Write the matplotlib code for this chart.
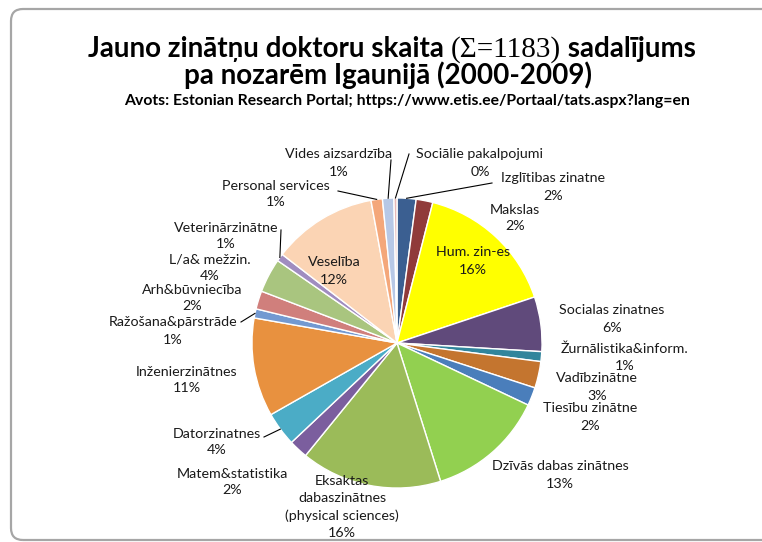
import matplotlib
matplotlib.use("Agg")
import matplotlib.pyplot as plt
from matplotlib.patches import FancyBboxPatch
import numpy as np

# ---------------- data ----------------
categories = [
    "Izglītibas zinatne", "Makslas", "Hum. zin-es", "Socialas zinatnes",
    "Žurnālistika&inform.", "Vadībzinātne", "Tiesību zinātne",
    "Dzīvās dabas zinātnes", "Eksaktas\ndabaszinātnes\n(physical sciences)",
    "Matem&statistika", "Datorzinatnes", "Inženierzinātnes",
    "Ražošana&pārstrāde", "Arh&būvniecība", "L/a& mežzin.",
    "Veterinārzinātne", "Veselība", "Personal services",
    "Vides aizsardzība", "Sociālie pakalpojumi",
]
counts = [25, 22, 188, 72, 13, 35, 24, 155, 186, 25, 45, 130,
          12, 24, 45, 10, 138, 15, 15, 4]
colors = [
    "#3B5F91", "#903B3A", "#FFFF00", "#604A7B", "#31859C", "#C4752F",
    "#4A7EBB", "#92D050", "#9BBB59", "#7B5E9E", "#4BACC6", "#E8913F",
    "#7399D1", "#D07F7C", "#A9C57F", "#A08CC0", "#FBD4B4", "#F4A77A",
    "#B7C8E6", "#E6B9B8",
]
title_parts = ["Jauno zinātņu doktoru skaita ", "(Σ=1183)", " sadalījums"]
title_line2 = "pa nozarēm Igaunijā (2000-2009)"
subtitle = "Avots: Estonian Research Portal; https://www.etis.ee/Portaal/tats.aspx?lang=en"

# ---------------- layout (pixel coordinates of the reference) ----------------
W, H = 762, 542
pie_center = (397, 343)
pie_radius = 145
label_pos = [
    (553, 187), (515, 218), (473, 261), (612, 319), (625, 357),
    (597, 387), (590, 417), (560, 475), (342, 507), (232, 482),
    (217, 442), (187, 380), (173, 331), (192, 298), (210, 268),
    (226, 236), (334, 271), (276, 194), (339, 163), (480, 163),
]
leader_anchor = {0: (492, 183), 10: (264, 437), 12: (241, 322),
                 15: (281, 230), 17: (338, 191), 18: (391, 160),
                 19: (409, 154)}

def Y(y):
    return H - y

fig = plt.figure(figsize=(W / 100, H / 100), dpi=100)
ax = fig.add_axes([0, 0, 1, 1])

total = sum(counts)
wedges, _ = ax.pie(
    counts, colors=colors, startangle=90, counterclock=False,
    center=(pie_center[0], Y(pie_center[1])), radius=pie_radius,
    explode=[0.035] * len(counts),
    wedgeprops=dict(edgecolor="white", linewidth=1.0),
)
ax.set_xlim(0, W)
ax.set_ylim(0, H)
ax.set_aspect("equal")
ax.axis("off")

lab_font = ["Lato", "DejaVu Sans"]
for i, (name, c) in enumerate(zip(categories, counts)):
    pct = int(round(100 * c / total))
    x, y = label_pos[i]
    ax.text(x, Y(y), f"{name}\n{pct}%", ha="center", va="center",
            fontsize=10.3, family=lab_font, color="#1a1a1a",
            linespacing=1.5, multialignment="center")

for i, (ax_x, ax_y) in leader_anchor.items():
    w = wedges[i]
    ang = np.deg2rad((w.theta1 + w.theta2) / 2)
    cx, cy = w.center
    ex = cx + w.r * np.cos(ang)
    ey = cy + w.r * np.sin(ang)
    ax.plot([ax_x, ex], [Y(ax_y), ey], color="black", lw=0.8)

# frame
frame = FancyBboxPatch((11, Y(540)), 1000, 531,
                       boxstyle="round,pad=0,rounding_size=12",
                       fill=False, edgecolor="#A6A6A6", linewidth=1.6,
                       clip_on=False)
ax.add_patch(frame)

# title line 1 with mixed fonts
fig.canvas.draw()
renderer = fig.canvas.get_renderer()
styles = [dict(family=["Lato", "DejaVu Sans"], weight="bold", fontsize=20),
          dict(family=["Liberation Serif", "DejaVu Serif"], weight="normal", fontsize=21),
          dict(family=["Lato", "DejaVu Sans"], weight="bold", fontsize=20)]
texts = []
for s, st in zip(title_parts, styles):
    t = ax.text(0, Y(57), s, ha="left", va="baseline", color="black", **st)
    texts.append(t)
widths = []
for t in texts:
    bb = t.get_window_extent(renderer)
    widths.append(bb.width)
x0 = 392 - sum(widths) / 2
for t, wdt in zip(texts, widths):
    t.set_x(x0)
    x0 += wdt

ax.text(388, Y(84), title_line2, ha="center", va="baseline", fontsize=20,
        family=["Lato", "DejaVu Sans"], weight="bold", color="black")
ax.text(407, Y(101), subtitle, ha="center", va="center", fontsize=11.3,
        family=["Lato", "DejaVu Sans"], weight="bold", color="black")

fig.savefig("out.png", dpi=100)
